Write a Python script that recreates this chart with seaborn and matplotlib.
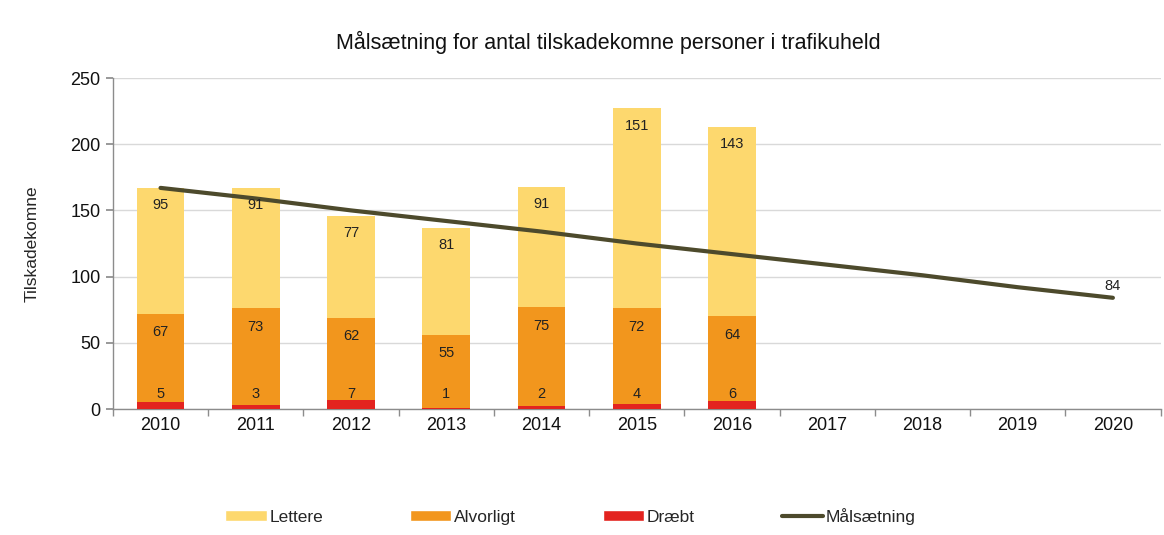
import numpy as np
import pandas as pd
import matplotlib
matplotlib.use("Agg")
import matplotlib.pyplot as plt
from matplotlib.patches import Patch
from matplotlib.lines import Line2D
import seaborn as sns

years = ["2010", "2011", "2012", "2013", "2014", "2015", "2016",
         "2017", "2018", "2019", "2020"]
bar_years = ["2010", "2011", "2012", "2013", "2014", "2015", "2016"]
draebt = [5, 3, 7, 1, 2, 4, 6]
alvorligt = [67, 73, 62, 55, 75, 72, 64]
lettere = [95, 91, 77, 81, 91, 151, 143]
maal = [167, 159, 150, 142, 134, 125, 117, 109, 101, 92, 84]

C_LET = "#fdd86e"
C_ALV = "#f2961d"
C_DRA = "#e3231f"
C_MAAL = "#4d4a2c"

sns.set_theme(style="white")
plt.rcParams["font.family"] = ["Liberation Sans", "DejaVu Sans"]

df = pd.DataFrame({"year": bar_years, "draebt": draebt,
                   "alvorligt": alvorligt, "lettere": lettere})
df["cum_alv"] = df["draebt"] + df["alvorligt"]
df["cum_let"] = df["cum_alv"] + df["lettere"]

fig = plt.figure(figsize=(11.64, 5.35), dpi=100)
ax = fig.add_axes([0.097, 0.2355, 0.900, 0.6187])

# stacked bars drawn as overlaid cumulative totals
for col, color in [("cum_let", C_LET), ("cum_alv", C_ALV), ("draebt", C_DRA)]:
    sns.barplot(data=df, x="year", y=col, order=years, color=color,
                width=0.5, saturation=1, linewidth=0, ax=ax, zorder=3)

sns.lineplot(x=np.arange(len(years)), y=maal, color=C_MAAL, linewidth=3,
             ax=ax, zorder=4)

# value labels
lab = dict(ha="center", va="center", fontsize=10.5, color="#222222", zorder=5)
for i in range(len(bar_years)):
    ax.text(i, df["cum_let"][i] - 13, str(lettere[i]), **lab)
    ax.text(i, df["cum_alv"][i] - 14, str(alvorligt[i]), **lab)
    ax.text(i, 11, str(draebt[i]), **lab)
ax.text(len(years) - 1, maal[-1] + 9, str(maal[-1]), **lab)

ax.set_xlim(-0.5, len(years) - 0.5)
ax.set_ylim(0, 250)
ax.set_yticks(range(0, 251, 50))
ax.yaxis.grid(True, color="#d9d9d9", linewidth=1, zorder=0)
ax.set_axisbelow(True)
ax.set_xlabel("")
ax.set_ylabel("Tilskadekomne", fontsize=12.5, labelpad=22)

fig.text(0.523, 0.921, "Målsætning for antal tilskadekomne personer i trafikuheld",
         ha="center", va="center", fontsize=15.5, color="#111111")

for s in ["top", "right"]:
    ax.spines[s].set_visible(False)
for s in ["left", "bottom"]:
    ax.spines[s].set_color("#8c8c8c")
    ax.spines[s].set_linewidth(1)

ax.tick_params(axis="both", labelsize=13, colors="#111111")
ax.tick_params(axis="y", left=True, length=5, color="#8c8c8c", pad=4)
ax.tick_params(axis="x", bottom=False, pad=0)
ax.set_xticks(np.arange(-0.5, len(years), 1.0), minor=True)
ax.tick_params(axis="x", which="minor", bottom=True, length=5, color="#8c8c8c")

handles = [Patch(facecolor=C_LET, label="Lettere"),
           Patch(facecolor=C_ALV, label="Alvorligt"),
           Patch(facecolor=C_DRA, label="Dræbt"),
           Line2D([0], [0], color=C_MAAL, linewidth=3, label="Målsætning")]
fig.legend(handles=handles, loc="center", bbox_to_anchor=(0.49, 0.035), ncol=4,
           frameon=False, fontsize=12.5, handlelength=2.4, handleheight=0.6,
           handletextpad=0.15, columnspacing=5.0)

fig.savefig("out.png", dpi=100)
